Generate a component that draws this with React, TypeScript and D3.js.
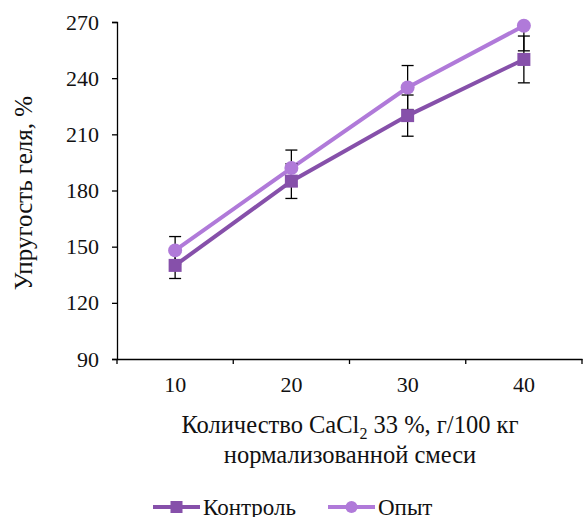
import React, { useRef, useEffect } from 'react';
import * as d3 from 'd3';

const categories = ['10', '20', '30', '40'];
const kontrol = [140, 185, 220, 250];
const kontrolErr = [7, 9.25, 11, 12.5];
const opyt = [148, 192, 235, 268];
const opytErr = [7.4, 9.6, 11.75, 13.4];
const yTicks = [90, 120, 150, 180, 210, 240, 270];

const series = [
  { name: 'Контроль', values: kontrol, errors: kontrolErr, color: '#8650AA', marker: 'square' },
  { name: 'Опыт', values: opyt, errors: opytErr, color: '#B07AD9', marker: 'circle' },
];

const font = '"Liberation Serif", "Times New Roman", serif';

function App() {
  const ref = useRef<SVGSVGElement>(null);

  useEffect(() => {
    const svg = d3.select(ref.current);
    svg.selectAll('*').remove();

    const left = 117, right = 582, top = 22, bottom = 359;

    const x = d3.scaleBand().domain(categories).range([left, right]);
    const y = d3.scaleLinear().domain([90, 270]).range([bottom, top]);

    svg.append('defs').append('clipPath').attr('id', 'plotclip')
      .append('rect').attr('x', left - 10).attr('y', top).attr('width', right - left + 20).attr('height', bottom - top);

    // Y axis
    const yAxis = svg.append('g')
      .attr('transform', `translate(${left},0)`)
      .call(d3.axisLeft(y).tickValues(yTicks).tickSize(5).tickPadding(13));
    yAxis.select('.domain').attr('stroke', '#000').attr('stroke-width', 1.3);
    yAxis.selectAll('line').attr('stroke', '#000').attr('stroke-width', 1.3);
    yAxis.selectAll('text').attr('font-family', font).attr('font-size', 22).attr('fill', '#111');

    // X axis
    const xAxis = svg.append('g')
      .attr('transform', `translate(0,${bottom})`)
      .call(d3.axisBottom(x).tickSize(0).tickPadding(17));
    xAxis.select('.domain').attr('stroke', '#000').attr('stroke-width', 1.3);
    xAxis.selectAll('text').attr('font-family', font).attr('font-size', 22).attr('fill', '#111');
    // tick marks between categories
    xAxis.selectAll('.sep')
      .data(d3.range(categories.length + 1))
      .enter()
      .append('line')
      .attr('x1', (i) => left + i * x.bandwidth())
      .attr('x2', (i) => left + i * x.bandwidth())
      .attr('y1', 0)
      .attr('y2', 5)
      .attr('stroke', '#000')
      .attr('stroke-width', 1.3);

    const cx = (i: number) => (x(categories[i]) as number) + x.bandwidth() / 2;

    const plot = svg.append('g').attr('clip-path', 'url(#plotclip)');

    series.forEach((s) => {
      const line = d3.line<number>()
        .x((d, i) => cx(i))
        .y((d) => y(d));
      plot.append('path')
        .datum(s.values)
        .attr('d', line)
        .attr('fill', 'none')
        .attr('stroke', s.color)
        .attr('stroke-width', 4);
    });

    // error bars
    series.forEach((s) => {
      const g = plot.append('g');
      s.values.forEach((v, i) => {
        const e = s.errors[i];
        const xc = cx(i);
        g.append('line').attr('x1', xc).attr('x2', xc).attr('y1', y(v - e)).attr('y2', y(v + e))
          .attr('stroke', '#000').attr('stroke-width', 1.3);
        [v - e, v + e].forEach((w) => {
          g.append('line').attr('x1', xc - 6).attr('x2', xc + 6).attr('y1', y(w)).attr('y2', y(w))
            .attr('stroke', '#000').attr('stroke-width', 1.3);
        });
      });
    });

    // markers
    series.forEach((s) => {
      s.values.forEach((v, i) => {
        if (s.marker === 'square') {
          svg.append('rect').attr('x', cx(i) - 6.5).attr('y', y(v) - 6.5)
            .attr('width', 13).attr('height', 13).attr('fill', s.color);
        } else {
          svg.append('circle').attr('cx', cx(i)).attr('cy', y(v)).attr('r', 7).attr('fill', s.color);
        }
      });
    });

    // axis titles
    svg.append('text')
      .attr('transform', `translate(32,193) rotate(-90)`)
      .attr('text-anchor', 'middle')
      .attr('font-family', font).attr('font-size', 25).attr('fill', '#111')
      .text('Упругость геля, %');

    const t1 = svg.append('text')
      .attr('x', 350).attr('y', 433)
      .attr('text-anchor', 'middle')
      .attr('font-family', font).attr('font-size', 24.5).attr('fill', '#111');
    t1.append('tspan').text('Количество CaCl');
    t1.append('tspan').attr('dy', 6).attr('font-size', 16).text('2');
    t1.append('tspan').attr('dy', -6).text(' 33 %, г/100 кг');

    svg.append('text')
      .attr('x', 350).attr('y', 463)
      .attr('text-anchor', 'middle')
      .attr('font-family', font).attr('font-size', 24.5).attr('fill', '#111')
      .text('нормализованной смеси');

    // legend
    const legendPos = [153, 328];
    series.forEach((s, k) => {
      const lx = legendPos[k];
      const ly = 507;
      const g = svg.append('g');
      g.append('line').attr('x1', lx).attr('x2', lx + 47).attr('y1', ly).attr('y2', ly)
        .attr('stroke', s.color).attr('stroke-width', 4);
      if (s.marker === 'square') {
        g.append('rect').attr('x', lx + 23.5 - 6).attr('y', ly - 6).attr('width', 12).attr('height', 12).attr('fill', s.color);
      } else {
        g.append('circle').attr('cx', lx + 23.5).attr('cy', ly).attr('r', 6).attr('fill', s.color);
      }
      g.append('text').attr('x', lx + 50).attr('y', ly + 8)
        .attr('font-family', font).attr('font-size', 23).attr('fill', '#111')
        .text(s.name);
    });
  }, []);

  return (
    <svg ref={ref} width={583} height={517}
      style={{ position: 'absolute', left: 0, top: 0, background: '#fff' }} />
  );
}

export default App;
